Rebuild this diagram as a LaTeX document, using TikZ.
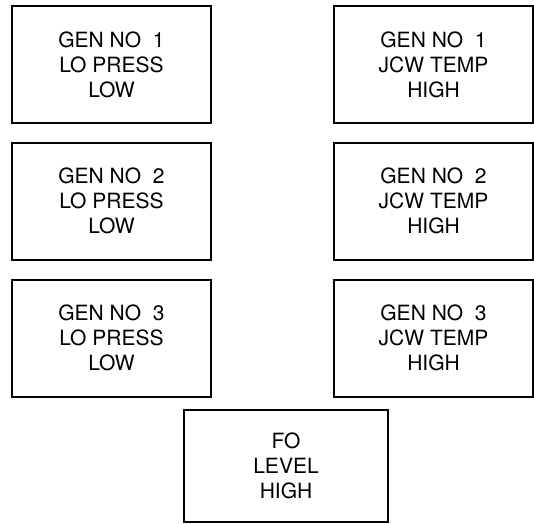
\documentclass[tikz,border=0pt]{standalone}
\usepackage{fontspec}
\setmainfont{TeX Gyre Heros}
\usetikzlibrary{positioning}

\begin{document}
\begin{tikzpicture}[node distance=17pt and 121pt,
	lamp/.style={rectangle, draw=black, line width=2pt, align=center,
		minimum width=199pt, minimum height=117pt, inner sep=0pt,
		font=\fontsize{21}{25}\selectfont}]
				\useasboundingbox (0,0) rectangle (534pt,523pt);
				\node (lo1) at (111.5pt,458pt) [lamp] {GEN NO\ \ 1\\LO PRESS\\LOW};
				\node (lo2) [lamp, below=of lo1] {GEN NO\ \ 2\\LO PRESS\\LOW};
				\node (lo3) [lamp, below=18pt of lo2] {GEN NO\ \ 3\\LO PRESS\\LOW};
				\node (jcw1) [lamp, right=of lo1] {GEN NO\ \ 1\\JCW TEMP\\HIGH};
				\node (jcw2) [lamp, right=of lo2] {GEN NO\ \ 2\\JCW TEMP\\HIGH};
				\node (jcw3) [lamp, right=of lo3] {GEN NO\ \ 3\\JCW TEMP\\HIGH};
				\node (fo) at (286pt,57pt) [lamp, minimum width=204pt,
				minimum height=112pt] {FO\\LEVEL\\HIGH};
			\end{tikzpicture}
\end{document}
